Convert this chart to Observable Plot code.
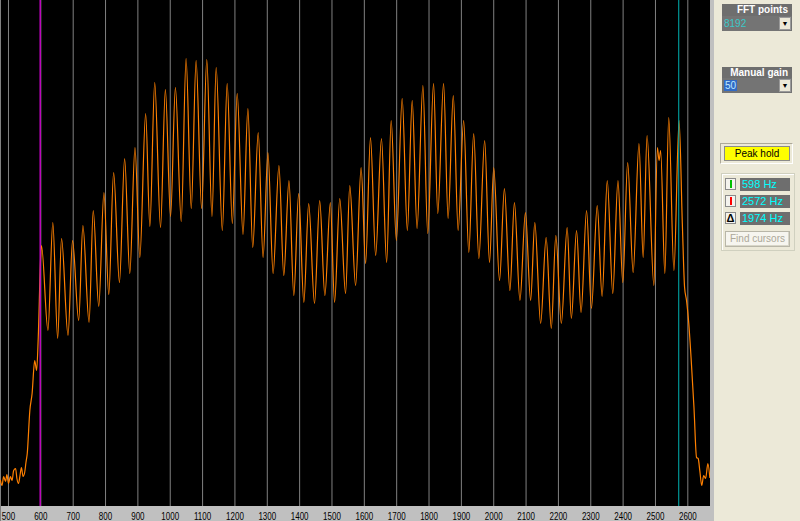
<!DOCTYPE html>
<html><head><meta charset="utf-8">
<script src="https://cdn.jsdelivr.net/npm/d3@7"></script>
<script src="https://cdn.jsdelivr.net/npm/@observablehq/plot@0.6"></script>
<style>
html,body{margin:0;padding:0;background:#ece9d8;width:800px;height:521px;overflow:hidden;font-family:"Liberation Sans",Arial,sans-serif;}
#wrap{position:relative;width:800px;height:521px;}
#chart{position:absolute;left:0;top:0;width:710px;height:521px;}
#sep{position:absolute;left:710px;top:0;width:4px;height:521px;background:#c0c0c0;}
.abs{position:absolute;box-sizing:border-box;}
.hdr{background:#6e6e6e;color:#fff;font-weight:bold;font-size:10px;text-align:right;padding-right:4px;line-height:12px;height:12px;width:70px;left:722px;}
.combo{background:#747474;height:15px;width:70px;left:722px;font-size:10px;line-height:15px;padding-left:2px;}
.combo .btn{position:absolute;right:1px;top:1px;width:12px;height:13px;background:#ece9d8;border:1px solid #9a9a9a;box-sizing:border-box;font-size:7px;line-height:11px;text-align:center;color:#000;}
.icon{left:725px;width:11px;height:12px;background:#f4f3ee;border:1px solid #8a8a8a;}
.bar{position:absolute;left:4px;top:1px;width:2px;height:8px;}
.valbox{left:740px;width:50px;height:13px;background:#6e6e6e;color:#00ffff;font-size:11px;line-height:13px;padding-left:2px;}
</style></head>
<body><div id="wrap">
<div id="chart"></div>
<div id="sep"></div>
<div class="abs hdr" style="top:4px">FFT points</div>
<div class="abs combo" style="top:16px"><span style="color:#3cc8c8">8192</span><div class="btn">▼</div></div>
<div class="abs hdr" style="top:67px">Manual gain</div>
<div class="abs combo" style="top:78px"><span style="background:#316ac5;color:#bfe8ff;padding:0 1px">50</span><div class="btn">▼</div></div>
<div class="abs" style="left:720px;top:143px;width:73px;height:21px;border:1px solid #aca899;border-right-color:#fff;border-bottom-color:#fff;"></div>
<div class="abs" style="left:724px;top:146px;width:66px;height:15px;background:#ffff00;border:1px solid #8a8a8a;font-size:10px;line-height:13px;text-align:center;color:#000;">Peak hold</div>
<div class="abs" style="left:721px;top:173px;width:74px;height:78px;border:1px solid #d0d0bf;box-shadow:inset 1px 1px 0 #fff;"></div>
<div class="abs icon" style="top:178px"><div class="bar" style="background:#00c000"></div></div>
<div class="abs valbox" style="top:178px">598 Hz</div>
<div class="abs icon" style="top:195px"><div class="bar" style="background:#ff0000"></div></div>
<div class="abs valbox" style="top:195px">2572 Hz</div>
<div class="abs icon" style="top:212px;font-size:11px;font-weight:bold;line-height:10px;text-align:center;color:#000;">Δ</div>
<div class="abs valbox" style="top:212px">1974 Hz</div>
<div class="abs" style="left:725px;top:231px;width:65px;height:16px;background:#f6f5ef;border:1px solid #b8b6a8;box-shadow:inset -1px -1px 0 #d8d6c8;font-size:10px;line-height:14px;text-align:center;color:#aca899;">Find cursors</div>
</div>
<script>
const freqHz = [475,480,485,491,495,500,506,511,516,522,526,531,536,540,545,550,554,558,566,573,581,587,592,599,602,
622,637,652,664,684,698,717,730,749,762,779,795,810,825,843,859,875,891,906,924,937,952,970,985,1001,1016,1034,1049,1065,1080,1097,1113,1129,1142,1161,1176,1192,1207,1225,1240,1255,1272,1287,1302,1318,1336,1351,1367,1382,1397,1413,1428,1446,1462,1478,1495,1508,1524,1542,1555,1573,1590,1604,1619,1635,1653,1669,1683,1699,1717,1733,1748,1763,1781,1796,1814,1827,1845,1859,1875,1890,1907,1923,1938,1954,1972,1987,2000,2018,2033,2050,2064,2081,2098,2114,2127,2145,2162,2178,2192,2209,2227,2240,2256,2270,2287,2302,2320,2335,2351,2368,2384,2399,2414,2431,2449,2462,2474,2495,2506,2511,2516,2529,2541,2557,2573,2583,2590,2596,2603,2610,2619,2627,2632,2637,2643,2649,2655,2662,2668];
const levelDb = [-96,-97,-95.2,-96.2,-94.8,-96.6,-95.2,-96,-94,-93.6,-95.6,-96.6,-94.8,-93.4,-95.2,-94.4,-92.4,-90.6,-82,-78.6,-72,-74,-67.4,-52,-49,
-66,-44.4,-67.6,-47.6,-67,-48,-64,-45,-64.4,-42,-61.2,-38.4,-58.8,-34.4,-56.4,-31.6,-54.6,-29.4,-51.4,-22.6,-45.2,-16.4,-45.4,-17.8,-43.2,-17.4,-44.2,-11.6,-41.6,-12,-41.6,-11.8,-43.2,-13.4,-46,-16.6,-44.6,-18.6,-46.8,-21.6,-49.4,-26.4,-51.4,-30.4,-54.6,-33,-55,-36,-59,-38.6,-60.4,-40.6,-60.6,-40,-59,-40.4,-60.4,-39.6,-58.6,-37,-57,-33.4,-52.6,-27.4,-51,-27.6,-52.4,-24,-48,-19.6,-46,-20,-45.6,-17,-46.6,-16.6,-42.6,-16.6,-43.6,-19,-46,-24,-50.4,-26.6,-51.6,-28,-52.4,-33.4,-56,-37.6,-58,-40.4,-60,-42.4,-60,-44.4,-64.6,-47.4,-65.6,-47,-64.6,-45.4,-63.6,-46,-62.4,-42,-61.6,-41,-59.2,-36,-58.6,-36,-56.4,-32.4,-54.4,-28.6,-51.4,-27,-57,-29.4,-32,-30,-54.6,-23.4,-54,-24,-44.6,-57.4,-60,-64.6,-71.4,-81.4,-91.4,-91.6,-94,-97,-95,-95.6,-92.6,-95.4];
const tickHz = [500,600,700,800,900,1000,1100,1200,1300,1400,1500,1600,1700,1800,1900,2000,2100,2200,2300,2400,2500,2600];
const cursor1Hz = [598];
const cursor2Hz = [2572];

const spectrum = freqHz.map((f, i) => ({f, v: levelDb[i]}));

const chart = Plot.plot({
  width: 710, height: 521,
  marginTop: 0, marginRight: 0, marginBottom: 15, marginLeft: 0,
  x: {domain: [475.3, 2670.1]},
  y: {domain: [-101.2, 0], axis: null},
  style: {
    background: "linear-gradient(to right,#808080 0 1px,transparent 1px), linear-gradient(to bottom,#000 0 506px,#c0c0c0 506px)",
    color: "#000", fontSize: "10px", fontFamily: "'Liberation Sans', Arial, sans-serif"
  },
  marks: [
    Plot.ruleX(tickHz, {stroke: "#808080", strokeWidth: 1}),
    Plot.line(spectrum, {x: "f", y: "v", stroke: "#ff8000", strokeWidth: 1.2, curve: "monotone-x"}),
    Plot.ruleX(cursor1Hz, {stroke: "#c800c8", strokeWidth: 1.4}),
    Plot.ruleX(cursor2Hz, {stroke: "#00b4b4", strokeWidth: 1}),
    Plot.axisX(tickHz, {tickSize: 0, tickPadding: 6, fontSize: 10, label: null, tickFormat: d => String(d)})
  ]
});
d3.select(chart).selectAll('g[aria-label="x-axis tick label"] text').each(function() {
  const t = this.getAttribute("transform") || "";
  this.setAttribute("transform", t + " scale(0.8,1)");
});
document.getElementById("chart").appendChild(chart);
</script>
</body></html>
